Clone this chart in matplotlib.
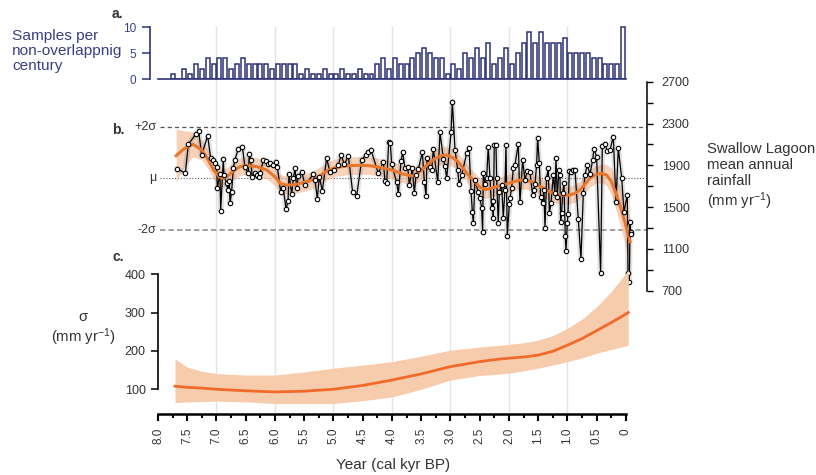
import numpy as np
import matplotlib
matplotlib.use("Agg")
import matplotlib.pyplot as plt

plt.rcParams['font.family'] = ['Liberation Sans', 'DejaVu Sans']
plt.rcParams['mathtext.default'] = 'regular'

# --- a. samples per non-overlapping century (7.75 ... 0.05 kyr BP)
hist_counts = [1, 0, 2, 1, 3, 2, 4, 3, 4, 4, 2, 3, 4, 3, 3, 3, 3, 2, 3, 3,
               3, 3, 1, 2, 1, 1, 2, 1, 1, 2, 1, 1, 2, 1, 1, 3, 4, 2, 4, 3,
               3, 4, 5, 6, 5, 4, 4, 1, 3, 2, 5, 4, 6, 4, 7, 3, 4, 6, 3, 5,
               7, 9, 7, 9, 7, 7, 7, 8, 5, 5, 5, 5, 4, 4, 3, 3, 3, 10]
hist_age = np.round(7.75 - 0.1 * np.arange(len(hist_counts)), 2)

# --- b. Swallow Lagoon rainfall reconstruction (kyr BP, mm/yr)
rain_age = [7.670, 7.533, 7.481, 7.356, 7.305, 7.254, 7.151, 7.100, 7.065, 7.025,
            6.997, 6.986, 6.940, 6.929, 6.883, 6.872, 6.826, 6.809, 6.780, 6.769,
            6.741, 6.712, 6.689, 6.627, 6.558, 6.513, 6.456, 6.438, 6.416, 6.387,
            6.342, 6.313, 6.273, 6.256, 6.199, 6.153, 6.114, 6.085, 6.028, 5.988,
            5.960, 5.903, 5.857, 5.811, 5.777, 5.760, 5.715, 5.686, 5.657, 5.629,
            5.600, 5.543, 5.487, 5.344, 5.316, 5.276, 5.242,
            5.191, 5.117, 5.060, 4.985, 4.917, 4.871, 4.814, 4.746, 4.672, 4.604,
            4.518, 4.450, 4.415, 4.358, 4.233, 4.148, 4.119, 4.091, 4.056, 4.028,
            4.005, 3.920, 3.891, 3.845, 3.817, 3.777, 3.731, 3.703, 3.652, 3.617,
            3.589, 3.549, 3.481, 3.446, 3.418, 3.401, 3.350, 3.321, 3.293, 3.218,
            3.179, 3.121, 3.093, 3.065, 2.990, 2.968, 2.922, 2.876, 2.854, 2.808,
            2.723, 2.683, 2.648, 2.626, 2.609,
            2.582, 2.525, 2.496, 2.467, 2.450, 2.439, 2.410, 2.382, 2.354, 2.325,
            2.297, 2.279, 2.268, 2.251, 2.222, 2.211, 2.183, 2.165, 2.125, 2.097,
            2.069, 2.051, 2.029, 1.994, 1.983, 1.955, 1.926, 1.898, 1.840, 1.812,
            1.766, 1.727, 1.687, 1.641, 1.595, 1.573, 1.556, 1.527, 1.510, 1.481,
            1.459, 1.424, 1.402, 1.384, 1.356, 1.327, 1.310, 1.282, 1.242, 1.214,
            1.196, 1.174, 1.145, 1.128, 1.117, 1.100, 1.082, 1.060, 1.037, 1.025,
            1.003, 0.991, 0.968, 0.940, 0.911, 0.871, 0.815, 0.769, 0.729, 0.701,
            0.661, 0.615, 0.569, 0.547, 0.501, 0.433, 0.404, 0.359, 0.319, 0.273,
            0.216, 0.170, 0.131, 0.073, 0.034, -0.023, -0.035, -0.058, -0.069, -0.080,
            -0.086]
rain_mm = [1864, 1826, 2101, 2196, 2231, 1998, 2183, 1967, 1951, 1919,
           1887, 1680, 1820, 1466, 1960, 1807, 1727, 1664, 1750, 1536,
           1648, 1877, 1947, 2056, 2078, 1880, 1823, 2011, 1947, 1788,
           1823, 1807, 1788, 1823, 1947, 1941, 1909, 1919, 1903, 1935,
           1884, 1648, 1680, 1478, 1558, 1813, 1628, 1775, 1871, 1680,
           1798, 1839, 1711, 1813, 1759, 1581, 1791,
           1654, 1967, 1833, 1855, 1903, 1998, 1909, 1989, 1641, 1606,
           1951, 1998, 2024, 2046, 1823, 1935, 1750, 1727, 2120, 2110,
           1909, 1737, 1628, 1944, 2024, 1871, 1887, 1711, 1871, 1632,
           1807, 1864, 2024, 1743, 1606, 1973, 1887, 1855, 2056, 1743,
           2215, 1960, 1896, 1775, 2215, 2509, 2046, 1855, 1718, 1807,
           2014, 2069, 1654, 1456, 1345,
           1759, 1641, 1584, 1494, 1258, 1823, 1718, 1775, 2078, 1782,
           1494, 1558, 1392, 2094, 2094, 1775, 1351, 1648, 1711, 1399,
           1663, 2094, 1226, 1526, 1584, 1679, 1871, 1903, 2104, 1545,
           1951, 1759, 1845, 1833, 1616, 1663, 1718, 1903, 2164, 1919,
           1600, 1536, 1663, 1303, 1782, 1871, 1440, 1536, 1807, 1632,
           1967, 1600, 1855, 1807, 1360, 1440, 1632, 1727, 1223, 1083,
           1345, 1434, 1845, 1833, 1855, 1855, 1386, 1003, 1632, 1807,
           1903, 1813, 1951, 2056, 1983, 872, 2088, 2104, 2037, 2046,
           2174, 1545, 2062, 1782, 1456, 1616, 866, 786, 1360, 1265,
           1239]
rain_mean = 1775
rain_sd = 248

# smoothed mean and its uncertainty (half width, mm/yr)
smooth_age = [7.69, 7.55, 7.40, 7.25, 7.15, 7.05, 6.95, 6.88, 6.80, 6.74,
              6.62, 6.54, 6.40, 6.31, 6.14, 6.00, 5.91, 5.80, 5.68, 5.57,
              5.45, 5.34, 5.23, 5.10, 4.97, 4.75, 4.55, 4.38, 4.20, 4.00,
              3.80, 3.66, 3.57, 3.49, 3.38, 3.26, 3.15, 3.07, 2.97, 2.87,
              2.77, 2.67, 2.58, 2.50, 2.40, 2.32, 2.20, 2.10, 1.95, 1.81,
              1.70, 1.61, 1.51, 1.41, 1.30, 1.19, 1.07, 0.96, 0.87, 0.79,
              0.70, 0.62, 0.52, 0.42, 0.33, 0.25, 0.16, 0.08, 0.02, -0.07]
smooth_mm = [1992, 2060, 2101, 2046, 1960, 1855, 1790, 1775, 1800, 1833,
             1880, 1896, 1893, 1887, 1855, 1790, 1727, 1711, 1713, 1727,
             1745, 1765, 1800, 1850, 1877, 1896, 1900, 1896, 1880, 1855,
             1815, 1798, 1820, 1855, 1915, 1967, 1992, 1998, 1975, 1935,
             1860, 1791, 1743, 1690, 1668, 1679, 1698, 1711, 1738, 1759,
             1755, 1743, 1712, 1679, 1645, 1622, 1612, 1616, 1632, 1663,
             1720, 1775, 1810, 1823, 1807, 1745, 1616, 1480, 1360, 1169]
smooth_hw = [255, 170, 120, 95, 90, 85, 85, 85, 85, 85,
             85, 85, 85, 85, 85, 85, 85, 85, 85, 85,
             85, 85, 85, 85, 85, 85, 85, 85, 85, 85,
             85, 85, 85, 85, 85, 85, 85, 85, 85, 85,
             85, 85, 85, 85, 85, 85, 85, 85, 85, 85,
             85, 85, 85, 85, 85, 85, 85, 85, 85, 85,
             85, 85, 85, 90, 100, 130, 160, 190, 210, 230]

# --- c. sigma of rainfall (mm/yr)
sig_age = [7.71, 7.5, 7.25, 7.0, 6.5, 6.0, 5.5, 5.0, 4.5, 4.0, 3.5, 3.0,
           2.5, 2.2, 2.0, 1.75, 1.5, 1.25, 1.0, 0.75, 0.5, 0.25, 0.0, -0.04]
sig_mid = [108, 105, 103, 100, 96, 93, 95, 100, 110, 124, 140, 159,
           172, 178, 181, 184, 189, 199, 215, 232, 253, 274, 296, 300]
sig_lo = [65, 67, 68, 69, 67, 63, 63, 63, 70, 80, 100, 124,
          136, 139, 142, 148, 155, 163, 172, 182, 194, 204, 213, 215]
sig_hi = [179, 158, 147, 141, 137, 137, 145, 155, 163, 172, 186, 202,
          210, 214, 217, 221, 228, 240, 259, 283, 315, 355, 403, 412]

x_major = [8.0, 7.5, 7.0, 6.5, 6.0, 5.5, 5.0, 4.5, 4.0, 3.5, 3.0, 2.5, 2.0, 1.5, 1.0, 0.5, 0.0]
x_labels = ['8.0', '7.5', '7.0', '6.5', '6.0', '5.5', '5.0', '4.5', '4.0',
            '3.5', '3.0', '2.5', '2.0', '1.5', '1.0', '0.5', '0']
x_minor = [7.75, 7.25, 6.75, 6.25, 5.75, 5.25, 4.75, 4.25, 3.75, 3.25,
           2.75, 2.25, 1.75, 1.25, 0.75, 0.25]
grid_ages = [7, 6, 5, 4, 3, 2, 1]

NAVY = '#2e3175'
NAVY_TXT = '#3a3e84'
TXT = '#333333'
W, H = 816, 475
X0, X1 = 8.0, -0.36


def box(l, t, r, b):
    return [l / W, 1 - b / H, (r - l) / W, (b - t) / H]


fig = plt.figure(figsize=(W / 100, H / 100), dpi=100)

# background grid
axg = fig.add_axes(box(158, 27, 647, 414))
axg.set_xlim(X0, X1)
axg.set_ylim(0, 1)
axg.axis('off')
for g in grid_ages:
    axg.axvline(g, color='#e6e1e4', lw=1.0)

# a. histogram
ax_a = fig.add_axes(box(158, 20, 647, 79.3))
ax_a.patch.set_visible(False)
ax_a.bar(hist_age, hist_counts, width=0.068, facecolor='white', edgecolor=NAVY, lw=1.1)
ax_a.set_xlim(X0, X1)
ax_a.set_ylim(0, 11.4)
for s in ['top', 'right']:
    ax_a.spines[s].set_visible(False)
ax_a.spines['bottom'].set_bounds(8.0, 0.0)
ax_a.spines['bottom'].set_color(NAVY)
ax_a.spines['bottom'].set_linewidth(1.2)
ax_a.spines['left'].set_position(('outward', 6))
ax_a.spines['left'].set_bounds(0, 10)
ax_a.spines['left'].set_color(NAVY)
ax_a.spines['left'].set_linewidth(1.2)
ax_a.set_xticks([])
ax_a.set_yticks([0, 5, 10])
ax_a.tick_params(axis='y', colors=NAVY, labelcolor=NAVY_TXT, length=5.5, width=1.1,
                 pad=4, labelsize=8.5)

# b. rainfall
ax_b = fig.add_axes(box(158, 81.7, 647, 290.7))
ax_b.patch.set_visible(False)
ax_b.set_xlim(X0, X1)
ax_b.set_ylim(700, 2700)
sm_age = np.array(smooth_age)
sm_mm = np.array(smooth_mm)
sm_hw = np.array(smooth_hw)
ax_b.fill_between(sm_age, sm_mm - sm_hw, sm_mm + sm_hw, color='#f5c3a0', alpha=0.75,
                  lw=0, zorder=1)
ax_b.plot(rain_age, rain_mm, color='#8a8a8a', lw=4, alpha=0.25, zorder=2,
          solid_joinstyle='round')
ax_b.plot(rain_age, rain_mm, color='black', lw=0.9, zorder=3)
ax_b.plot(smooth_age, smooth_mm, color='#e8772e', lw=2.2, zorder=4)
ax_b.plot(rain_age, rain_mm, ls='none', marker='o', ms=3.2, mfc='white', mec='black',
          mew=0.8, zorder=5)
ax_b.hlines(rain_mean + 2 * rain_sd, 7.966, X1, colors='#555555', lw=0.9,
            linestyles=(0, (3.3, 2.5)), zorder=0)
ax_b.hlines(rain_mean, 7.966, X1, colors='#555555', lw=0.8,
            linestyles=(0, (1, 1.6)), zorder=0)
ax_b.hlines(rain_mean - 2 * rain_sd, 7.966, X1, colors='#9a9a9a', lw=1.3,
            linestyles=(0, (3.0, 1.7)), zorder=0)
for s in ['top', 'left', 'bottom']:
    ax_b.spines[s].set_visible(False)
ax_b.spines['right'].set_bounds(700, 2700)
ax_b.spines['right'].set_linewidth(1.1)
ax_b.yaxis.tick_right()
ax_b.set_yticks([700, 1100, 1500, 1900, 2300, 2700])
ax_b.set_yticks([900, 1300, 1700, 2100, 2500], minor=True)
ax_b.tick_params(axis='y', which='both', length=4, width=1.0, pad=6.5,
                 labelsize=9, labelcolor=TXT)
ax_b.set_xticks([])
for val, lab in [(rain_mean + 2 * rain_sd, '+2σ'), (rain_mean, 'μ'),
                 (rain_mean - 2 * rain_sd, '-2σ')]:
    ax_b.text(-0.003, val, lab, transform=ax_b.get_yaxis_transform(),
              ha='right', va='center', fontsize=9, color=TXT)

# c. sigma
ax_c = fig.add_axes(box(158, 255, 647, 414))
ax_c.patch.set_visible(False)
ax_c.set_xlim(X0, X1)
ax_c.set_ylim(35.5, 450)
ax_c.fill_between(sig_age, sig_lo, sig_hi, color='#f7ccad', lw=0, zorder=1)
ax_c.plot(sig_age, sig_mid, color='#f26a2b', lw=2.0, zorder=2)
for s in ['top', 'right']:
    ax_c.spines[s].set_visible(False)
ax_c.spines['left'].set_bounds(100, 400)
ax_c.spines['left'].set_linewidth(1.2)
ax_c.spines['bottom'].set_bounds(8.0, 0.0)
ax_c.spines['bottom'].set_linewidth(1.8)
ax_c.set_yticks([100, 200, 300, 400])
ax_c.tick_params(axis='y', length=5.3, width=1.1, pad=3.5, labelsize=9, labelcolor=TXT)
ax_c.set_xticks(x_major)
ax_c.set_xticklabels(x_labels)
ax_c.set_xticks(x_minor, minor=True)
ax_c.tick_params(axis='x', which='major', length=5, width=1.5, pad=5,
                 labelsize=8.5, labelrotation=90, labelcolor=TXT)
ax_c.tick_params(axis='x', which='minor', length=3, width=1.5)


def ftext(x, y, s, **kw):
    fig.text(x / W, 1 - y / H, s, **kw)


ftext(112, 14, 'a.', fontsize=10, fontweight='bold', color=TXT, va='center')
ftext(112, 130, 'b.', fontsize=10, fontweight='bold', color=TXT, va='center')
ftext(112, 257, 'c.', fontsize=10, fontweight='bold', color=TXT, va='center')
ftext(12, 51, 'Samples per\nnon-overlappnig\ncentury', fontsize=11.1, color=NAVY_TXT,
      va='center', ha='left', linespacing=1.12)
ftext(707, 177, 'Swallow Lagoon\nmean annual\nrainfall\n(mm yr$^{-1}$)', fontsize=10.7,
      color=TXT, va='center', ha='left', linespacing=1.15)
ftext(83, 329, 'σ\n(mm yr$^{-1}$)', fontsize=10.7, color=TXT, va='center', ha='center',
      multialignment='center', linespacing=1.15)
ftext(393, 465, 'Year (cal kyr BP)', fontsize=11, color=TXT, va='center', ha='center')

fig.savefig('out.png', dpi=100)
